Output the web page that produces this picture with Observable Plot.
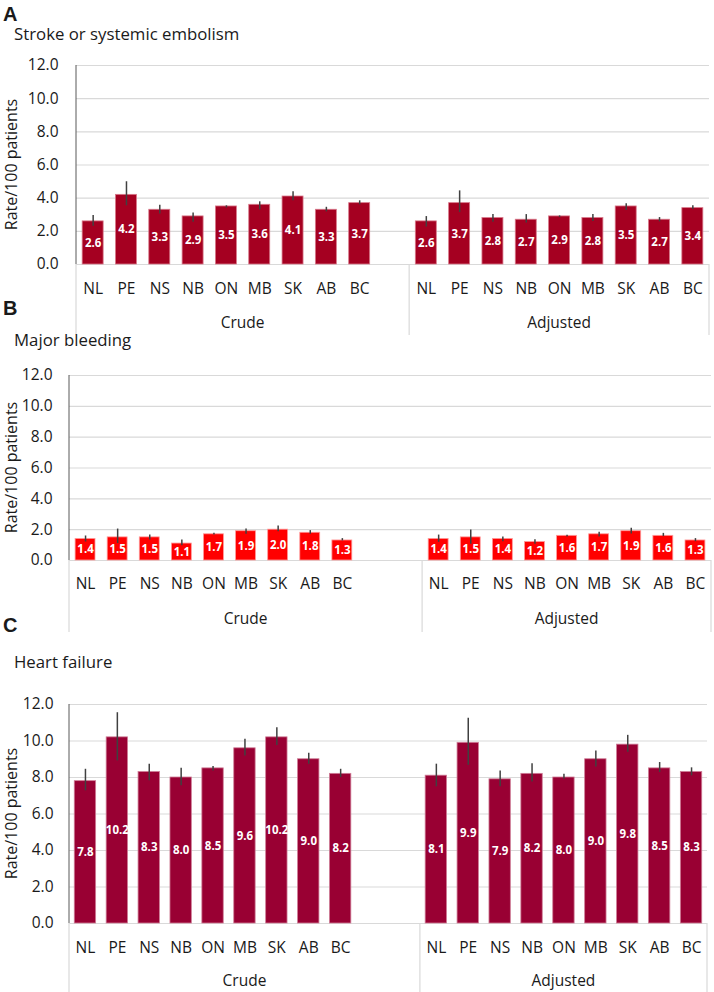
<!DOCTYPE html>
<html>
<head>
<meta charset="utf-8">
<script src="https://cdn.jsdelivr.net/npm/d3@7"></script>
<script src="https://cdn.jsdelivr.net/npm/@observablehq/plot@0.6"></script>
<style>
  html, body { margin: 0; padding: 0; background: #fff; }
  #root { position: relative; width: 714px; height: 992px; overflow: hidden; font-family: "Open Sans", sans-serif; color: #1a1a1a; }
  .letter { position: absolute; left: 3px; font-family: "Liberation Sans", Arial, sans-serif; font-weight: bold; font-size: 20px; line-height: 20px; }
  .title { position: absolute; left: 14px; font-size: 16.8px; line-height: 17px; white-space: nowrap; }
  .chart { position: absolute; left: 0; }
</style>
</head>
<body>
<div id="root"></div>
<script>
// ---------- data ----------
const provinces = ["NL", "PE", "NS", "NB", "ON", "MB", "SK", "AB", "BC"];
const groupNames = ["Crude", "Adjusted"];
const yTicks = [0, 2, 4, 6, 8, 10, 12];
const yLabel = "Rate/100 patients";

// A: Stroke or systemic embolism
const strokeCrude   = [2.6, 4.2, 3.3, 2.9, 3.5, 3.6, 4.1, 3.3, 3.7];
const strokeCrudeLo = [2.30, 3.54, 3.05, 2.55, 3.41, 3.29, 3.84, 3.17, 3.60];
const strokeCrudeHi = [2.95, 4.99, 3.58, 3.11, 3.54, 3.78, 4.38, 3.45, 3.84];
const strokeAdj     = [2.6, 3.7, 2.8, 2.7, 2.9, 2.8, 3.5, 2.7, 3.4];
const strokeAdjLo   = [2.26, 3.13, 2.55, 2.50, 2.83, 2.59, 3.25, 2.57, 3.31];
const strokeAdjHi   = [2.89, 4.44, 3.01, 3.01, 2.93, 3.01, 3.66, 2.83, 3.54];

// B: Major bleeding
const bleedCrude   = [1.4, 1.5, 1.5, 1.1, 1.7, 1.9, 2.0, 1.8, 1.3];
const bleedCrudeLo = [1.20, 1.10, 1.33, 0.96, 1.65, 1.70, 1.87, 1.70, 1.27];
const bleedCrudeHi = [1.59, 2.04, 1.65, 1.33, 1.76, 2.04, 2.24, 1.94, 1.42];
const bleedAdj     = [1.4, 1.5, 1.4, 1.2, 1.6, 1.7, 1.9, 1.6, 1.3];
const bleedAdjLo   = [1.18, 1.05, 1.22, 1.05, 1.52, 1.52, 1.72, 1.55, 1.22];
const bleedAdjHi   = [1.65, 1.98, 1.52, 1.35, 1.63, 1.83, 2.09, 1.76, 1.42];

// C: Heart failure
const hfCrude   = [7.8, 10.2, 8.3, 8.0, 8.5, 9.6, 10.2, 9.0, 8.2];
const hfCrudeLo = [7.27, 8.91, 7.82, 7.55, 8.36, 9.18, 9.76, 8.73, 8.00];
const hfCrudeHi = [8.45, 11.55, 8.73, 8.51, 8.60, 10.09, 10.73, 9.33, 8.45];
const hfAdj     = [8.1, 9.9, 7.9, 8.2, 8.0, 9.0, 9.8, 8.5, 8.3];
const hfAdjLo   = [7.49, 8.67, 7.49, 7.76, 7.91, 8.58, 9.38, 8.27, 8.09];
const hfAdjHi   = [8.73, 11.24, 8.36, 8.76, 8.18, 9.45, 10.31, 8.82, 8.53];

// ---------- drawing ----------
const root = document.getElementById("root");

function addDiv(cls, text, top) {
  const d = document.createElement("div");
  d.className = cls;
  d.textContent = text;
  d.style.top = top + "px";
  root.appendChild(d);
}

function panel(cfg) {
  const crudeKeys = provinces.map(p => "C-" + p);
  const adjKeys = provinces.map(p => "A-" + p);
  const gapKeys = d3.range(cfg.gaps).map(i => "gap" + i);
  const domain = [...crudeKeys, ...gapKeys, ...adjKeys];
  const rows = [
    ...provinces.map((p, i) => ({key: crudeKeys[i], prov: p, v: cfg.crude[i], lo: cfg.crudeLo[i], hi: cfg.crudeHi[i]})),
    ...provinces.map((p, i) => ({key: adjKeys[i], prov: p, v: cfg.adj[i], lo: cfg.adjLo[i], hi: cfg.adjHi[i]}))
  ];
  const provOf = new Map(rows.map(r => [r.key, r.prov]));
  const pi = cfg.paddingInner;

  // group separators, group labels, y axis line and y label drawn with the scales
  const groupMark = (index, scales, values, dim) => {
    const x = scales.x, y = scales.y;
    const step = x(domain[1]) - x(domain[0]);
    const edge = k => x(k) - step * pi / 2;
    const b0 = edge(domain[0]);
    const b1 = edge(adjKeys[0]);
    const b2 = edge(domain[domain.length - 1]) + step;
    const y0 = y(0);
    const g = d3.create("svg:g");
    for (const bx of [b0, b1, b2]) {
      g.append("line").attr("x1", bx).attr("x2", bx).attr("y1", y0).attr("y2", dim.height)
        .attr("stroke", "#d9d9d9").attr("stroke-width", 1.2);
    }
    g.append("line").attr("x1", b0).attr("x2", b0).attr("y1", y(12)).attr("y2", y0)
      .attr("stroke", "#595959").attr("stroke-width", 1);
    const mids = [(b0 + b1) / 2, (b1 + b2) / 2];
    groupNames.forEach((name, i) => {
      g.append("text").attr("x", mids[i]).attr("y", y0 + cfg.groupOffset)
        .attr("text-anchor", "middle").style("font-size", "15.5px").attr("fill", "#1a1a1a").text(name);
    });
    g.append("text")
      .attr("transform", `translate(${cfg.yLabelX},${(y(0) + y(12)) / 2}) rotate(-90)`)
      .attr("text-anchor", "middle").style("font-size", "16px").attr("fill", "#1a1a1a").text(yLabel);
    return g.node();
  };

  const chart = Plot.plot({
    width: 714,
    height: cfg.height,
    marginLeft: cfg.marginLeft,
    marginRight: cfg.marginRight,
    marginTop: cfg.marginTop,
    marginBottom: cfg.marginBottom,
    style: {fontFamily: "Open Sans", color: "#1a1a1a", background: "transparent"},
    x: {type: "band", domain, paddingInner: pi, paddingOuter: pi / 2, round: false},
    y: {domain: [0, 12]},
    marks: [
      Plot.gridY(yTicks, {stroke: "#d9d9d9", strokeOpacity: 1, strokeWidth: 1.2}),
      Plot.axisY(yTicks, {tickSize: 0, tickPadding: cfg.yTickPad, fontSize: 15.5, label: null,
        tickFormat: d => d.toFixed(1)}),
      Plot.axisX({tickSize: 0, tickPadding: cfg.xTickPad, fontSize: 15.5, label: null,
        tickFormat: k => provOf.get(k) || ""}),
      Plot.barY(rows, {x: "key", y: "v", fill: cfg.color, stroke: cfg.edge, strokeWidth: 0.8}),
      Plot.ruleX(rows, {x: "key", y1: "lo", y2: "hi", stroke: "#404040", strokeWidth: 1.5}),
      Plot.text(rows, {x: "key", y: d => d.v / 2, text: d => d.v.toFixed(1), fill: "white",
        fontWeight: "bold", fontSize: 11.5}),
      groupMark
    ]
  });
  chart.classList.add("chart");
  chart.style.top = cfg.top + "px";
  root.appendChild(chart);
  addDiv("letter", cfg.letter, cfg.letterTop);
  addDiv("title", cfg.title, cfg.titleTop);
}

panel({
  letter: "A", title: "Stroke or systemic embolism", letterTop: 4, titleTop: 25,
  crude: strokeCrude, crudeLo: strokeCrudeLo, crudeHi: strokeCrudeHi,
  adj: strokeAdj, adjLo: strokeAdjLo, adjHi: strokeAdjHi,
  gaps: 1, color: "#a50021", edge: "#d8798b", paddingInner: 0.37,
  top: 45, height: 290, marginLeft: 76, marginRight: 5, marginTop: 20, marginBottom: 71,
  yTickPad: 18, xTickPad: 18, groupOffset: 64, yLabelX: 17
});

panel({
  letter: "B", title: "Major bleeding", letterTop: 298, titleTop: 331,
  crude: bleedCrude, crudeLo: bleedCrudeLo, crudeHi: bleedCrudeHi,
  adj: bleedAdj, adjLo: bleedAdjLo, adjHi: bleedAdjHi,
  gaps: 2, color: "#ff0000", edge: "#ff9a9a", paddingInner: 0.38,
  top: 350, height: 282, marginLeft: 69, marginRight: 3, marginTop: 25, marginBottom: 72,
  yTickPad: 17, xTickPad: 17, groupOffset: 64, yLabelX: 17
});

panel({
  letter: "C", title: "Heart failure", letterTop: 615, titleTop: 653,
  crude: hfCrude, crudeLo: hfCrudeLo, crudeHi: hfCrudeHi,
  adj: hfAdj, adjLo: hfAdjLo, adjHi: hfAdjHi,
  gaps: 2, color: "#990033", edge: "#cf7d97", paddingInner: 0.33,
  top: 675, height: 317, marginLeft: 69, marginRight: 7, marginTop: 29, marginBottom: 69,
  yTickPad: 16, xTickPad: 18, groupOffset: 63, yLabelX: 17
});
</script>
</body>
</html>
